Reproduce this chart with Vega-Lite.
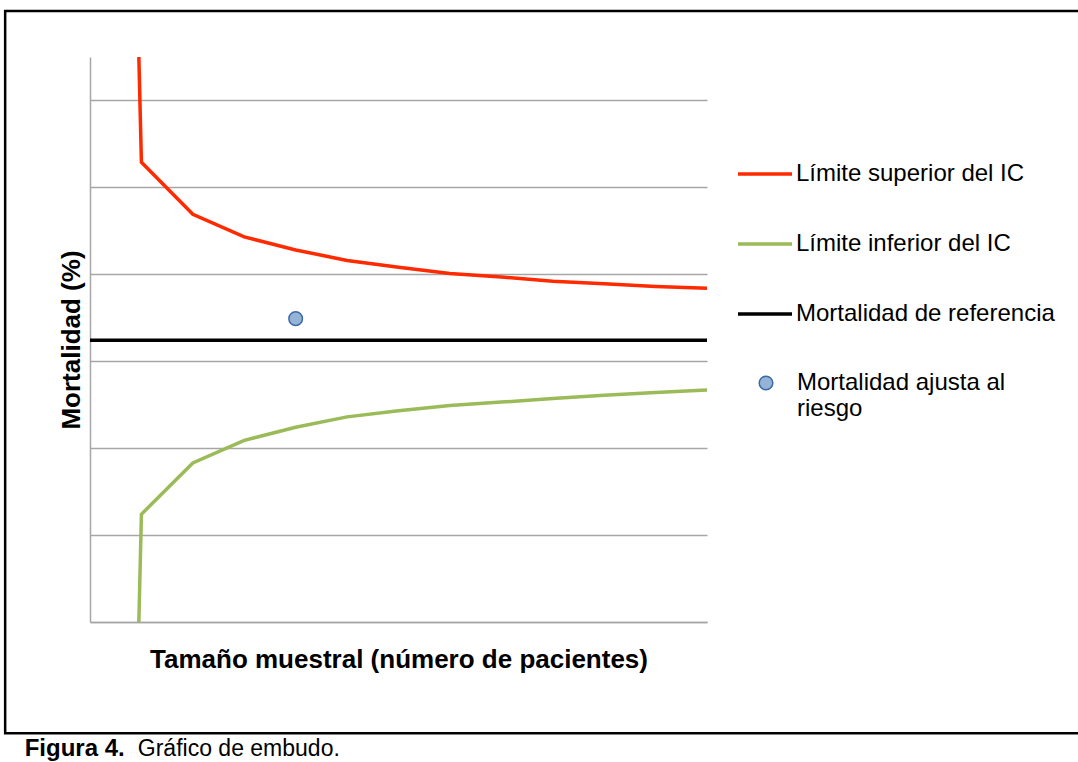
{
  "$schema": "https://vega.github.io/schema/vega-lite/v6.json",
  "width": 617,
  "height": 565,
  "autosize": {"type": "none"},
  "padding": {"left": 90, "top": 57, "right": 371, "bottom": 140},
  "background": "white",
  "config": {
    "view": {"stroke": null},
    "font": "Liberation Sans",
    "axis": {"labels": false, "ticks": false, "domainColor": "#a6a6a6", "domainWidth": 1.5, "titleFont": "Liberation Sans", "titleFontWeight": "bold", "titleFontSize": 26, "titleColor": "#000000"}
  },
  "datasets": {
    "lineas": [
      {"serie": "Límite superior del IC", "n": 0.95, "valor": 6.5},
      {"serie": "Límite superior del IC", "n": 1, "valor": 5.29},
      {"serie": "Límite superior del IC", "n": 2, "valor": 4.69},
      {"serie": "Límite superior del IC", "n": 3, "valor": 4.43},
      {"serie": "Límite superior del IC", "n": 4, "valor": 4.28},
      {"serie": "Límite superior del IC", "n": 5, "valor": 4.16},
      {"serie": "Límite superior del IC", "n": 6, "valor": 4.08},
      {"serie": "Límite superior del IC", "n": 7, "valor": 4.01},
      {"serie": "Límite superior del IC", "n": 8, "valor": 3.97},
      {"serie": "Límite superior del IC", "n": 9, "valor": 3.92},
      {"serie": "Límite superior del IC", "n": 10, "valor": 3.89},
      {"serie": "Límite superior del IC", "n": 11, "valor": 3.86},
      {"serie": "Límite superior del IC", "n": 12, "valor": 3.84},
      {"serie": "Límite inferior del IC", "n": 0.95, "valor": 0},
      {"serie": "Límite inferior del IC", "n": 1, "valor": 1.24},
      {"serie": "Límite inferior del IC", "n": 2, "valor": 1.83},
      {"serie": "Límite inferior del IC", "n": 3, "valor": 2.09},
      {"serie": "Límite inferior del IC", "n": 4, "valor": 2.24},
      {"serie": "Límite inferior del IC", "n": 5, "valor": 2.36},
      {"serie": "Límite inferior del IC", "n": 6, "valor": 2.43},
      {"serie": "Límite inferior del IC", "n": 7, "valor": 2.49},
      {"serie": "Límite inferior del IC", "n": 8, "valor": 2.53},
      {"serie": "Límite inferior del IC", "n": 9, "valor": 2.57},
      {"serie": "Límite inferior del IC", "n": 10, "valor": 2.61},
      {"serie": "Límite inferior del IC", "n": 11, "valor": 2.64},
      {"serie": "Límite inferior del IC", "n": 12, "valor": 2.67},
      {"serie": "Mortalidad de referencia", "n": 0, "valor": 3.24},
      {"serie": "Mortalidad de referencia", "n": 12, "valor": 3.24}
    ],
    "puntos": [
      {"tipo": "Mortalidad ajusta al riesgo", "n": 4, "valor": 3.49}
    ]
  },
  "layer": [
    {
      "data": {"name": "lineas"},
      "mark": {"type": "line", "strokeWidth": 3.5, "clip": true},
      "encoding": {
        "x": {"field": "n", "type": "quantitative", "scale": {"domain": [0, 12], "nice": false, "zero": false},
              "axis": {"title": "Tamaño muestral (número de pacientes)", "grid": false, "titlePadding": 24}},
        "y": {"field": "valor", "type": "quantitative", "scale": {"domain": [0, 6.5], "nice": false, "zero": false},
              "axis": {"title": "Mortalidad (%)", "values": [0, 1, 2, 3, 4, 5, 6], "grid": true, "gridColor": "#a6a6a6", "gridWidth": 1.5, "gridOpacity": 1, "titlePadding": 6}},
        "color": {"field": "serie", "type": "nominal",
          "scale": {"domain": ["Límite superior del IC", "Límite inferior del IC", "Mortalidad de referencia"], "range": ["#ff2a00", "#9bbb59", "#000000"]},
          "legend": {"title": null, "orient": "none", "legendX": 646, "legendY": 88, "padding": 0,
            "symbolType": "stroke", "symbolSize": 2916, "symbolStrokeWidth": 3.5,
            "labelFont": "Liberation Sans", "labelFontSize": 24, "labelColor": "#000000", "labelOffset": 2, "labelLimit": 400, "rowPadding": 29}}
      }
    },
    {
      "data": {"name": "puntos"},
      "mark": {"type": "point", "filled": true, "size": 185, "stroke": "#3a6aa5", "strokeWidth": 1.5, "opacity": 1},
      "encoding": {
        "x": {"field": "n", "type": "quantitative"},
        "y": {"field": "valor", "type": "quantitative"},
        "fill": {"field": "tipo", "type": "nominal",
          "scale": {"domain": ["Mortalidad ajusta al riesgo"], "range": ["#95b3d7"]},
          "legend": {"title": null, "orient": "none", "legendX": 664, "legendY": 314, "padding": 0,
            "symbolType": "circle", "symbolSize": 185, "symbolStrokeColor": "#3a6aa5", "symbolStrokeWidth": 1.5, "symbolOpacity": 1,
            "labelExpr": "['Mortalidad ajusta al', 'riesgo']", "labelBaseline": "middle",
            "labelFont": "Liberation Sans", "labelFontSize": 24, "labelColor": "#000000", "labelOffset": 19, "labelLimit": 400}}
      }
    },
    {
      "data": {"values": [{}]},
      "mark": {"type": "rect", "filled": false, "stroke": "#000000", "strokeWidth": 2.5, "clip": false},
      "encoding": {
        "x": {"datum": -1.65, "type": "quantitative"},
        "x2": {"datum": 20},
        "y": {"datum": 7.03, "type": "quantitative"},
        "y2": {"datum": -1.28}
      }
    },
    {
      "data": {"values": [{"texto": "Figura 4."}]},
      "mark": {"type": "text", "align": "left", "baseline": "alphabetic", "font": "Liberation Sans", "fontSize": 24, "fontWeight": "bold", "color": "#000000", "clip": false},
      "encoding": {
        "text": {"field": "texto"},
        "x": {"datum": -1.27, "type": "quantitative"},
        "y": {"datum": -1.542, "type": "quantitative"}
      }
    },
    {
      "data": {"values": [{"texto": "Gráfico de embudo."}]},
      "mark": {"type": "text", "align": "left", "baseline": "alphabetic", "font": "Liberation Sans", "fontSize": 23, "color": "#000000", "clip": false},
      "encoding": {
        "text": {"field": "texto"},
        "x": {"datum": 0.93, "type": "quantitative"},
        "y": {"datum": -1.542, "type": "quantitative"}
      }
    }
  ]
}
